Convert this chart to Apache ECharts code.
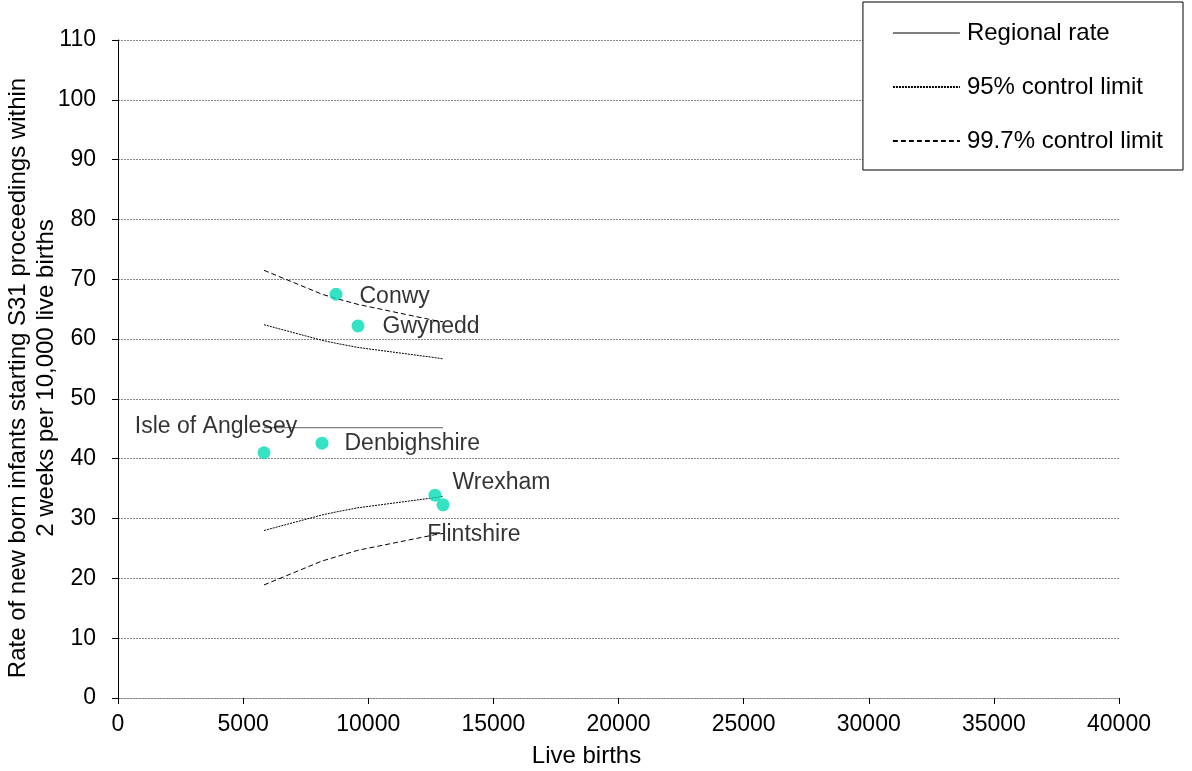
<!DOCTYPE html>
<html>
<head>
<meta charset="utf-8">
<style>
  html, body { margin: 0; padding: 0; background: #fff; }
  #chart { width: 1192px; height: 771px; }
</style>
<script src="https://cdn.jsdelivr.net/npm/echarts@6/dist/echarts.min.js"></script>
</head>
<body>
<div id="chart"></div>
<script>
// Authorities: live births vs rate per 10,000
const authorities = ["Isle of Anglesey", "Denbighshire", "Conwy", "Gwynedd", "Wrexham", "Flintshire"];
const liveBirths = [5834, 8152, 8711, 9590, 12667, 12987];
const rates = [41.0, 42.6, 67.5, 62.2, 33.9, 32.3];

// Funnel lines evaluated at the authorities' live births
const regionalRate = [45.2, 45.2, 45.2, 45.2, 45.2, 45.2];
const upper95 = [62.4, 59.8, 59.3, 58.6, 56.9, 56.7];
const lower95 = [28.0, 30.6, 31.1, 31.8, 33.5, 33.7];
const upper997 = [71.5, 67.5, 66.8, 65.8, 63.1, 62.9];
const lower997 = [18.9, 22.9, 23.6, 24.7, 27.3, 27.5];

const labelPlacement = {
  "Isle of Anglesey": { position: "top", offset: [-48, -3] },
  "Denbighshire": { position: "right", offset: [11, 0] },
  "Conwy": { position: "right", offset: [12, 2] },
  "Gwynedd": { position: "right", offset: [13, 1] },
  "Wrexham": { position: "right", offset: [6, -13] },
  "Flintshire": { position: "bottom", offset: [31, 7] }
};

const FONT = "Liberation Sans, Arial, sans-serif";

function pairs(ys) {
  return liveBirths.map((x, i) => [x, ys[i]]);
}

function limitSeries(name, ys, dash) {
  return {
    name: name,
    type: "line",
    data: pairs(ys),
    symbol: "none",
    silent: true,
    itemStyle: { color: "#000" },
    lineStyle: { color: "#000", width: 1, type: dash },
    z: 2
  };
}

const chart = echarts.init(document.getElementById("chart"));

chart.setOption({
  animation: false,
  textStyle: { fontFamily: FONT },
  grid: { left: 118, right: 73, top: 40, bottom: 73, outerBoundsMode: "none" },
  legend: {
    data: ["Regional rate", "95% control limit", "99.7% control limit"],
    orient: "vertical",
    right: 9,
    top: 2,
    z: 10,
    padding: [19, 20, 17, 29],
    itemGap: 30,
    itemWidth: 67,
    itemHeight: 12,
    backgroundColor: "#fff",
    borderColor: "#000",
    borderWidth: 1,
    itemStyle: { opacity: 0 },
    textStyle: { fontSize: 24, lineHeight: 24, color: "#000", fontFamily: FONT, padding: [0, 0, 0, 2] }
  },
  xAxis: {
    type: "value",
    min: 0,
    max: 40000,
    interval: 5000,
    name: "Live births",
    nameLocation: "middle",
    nameGap: 46,
    nameMoveOverlap: false,
    nameTextStyle: { fontSize: 24, color: "#000", fontFamily: FONT, padding: [0, 64, 0, 0] },
    axisLine: { lineStyle: { color: "#888", width: 1, type: [2, 1] } },
    axisTick: { show: true, length: 6, lineStyle: { color: "#000" } },
    axisLabel: { fontSize: 23, color: "#000", margin: 15, fontFamily: FONT, formatter: (v) => String(v) },
    splitLine: { show: false }
  },
  yAxis: {
    type: "value",
    min: 0,
    max: 110,
    interval: 10,
    name: "Rate of new born infants starting S31 proceedings within\n2 weeks per 10,000 live births",
    nameLocation: "middle",
    nameRotate: 90,
    nameGap: 58,
    nameMoveOverlap: false,
    nameTextStyle: { fontSize: 24, color: "#000", lineHeight: 28, fontFamily: FONT, padding: [0, 18, 0, 0] },
    axisLine: { show: true, lineStyle: { color: "#000", width: 1 } },
    axisTick: { show: true, length: 6, lineStyle: { color: "#000" } },
    axisLabel: { fontSize: 23, color: "#000", margin: 22, fontFamily: FONT },
    splitLine: { show: true, lineStyle: { color: "#888", type: [2, 1], width: 1 } }
  },
  series: [
    {
      name: "Regional rate",
      type: "line",
      data: pairs(regionalRate),
      symbol: "none",
      silent: true,
      itemStyle: { color: "#7f7f7f" },
      lineStyle: { color: "#7f7f7f", width: 1.2, type: "solid" },
      z: 2
    },
    limitSeries("95% control limit", upper95, [2, 1]),
    limitSeries("95% control limit", lower95, [2, 1]),
    limitSeries("99.7% control limit", upper997, [5, 3]),
    limitSeries("99.7% control limit", lower997, [5, 3]),
    {
      name: "Authorities",
      type: "scatter",
      symbolSize: 13,
      itemStyle: { color: "#00dcb4" },
      label: { show: true, color: "#000", fontSize: 23, fontFamily: FONT, textBorderWidth: 0 },
      z: 5,
      data: authorities.map((a, i) => ({
        value: [liveBirths[i], rates[i]],
        label: {
          show: true,
          formatter: a,
          position: labelPlacement[a].position,
          offset: labelPlacement[a].offset,
          fontSize: 23,
          color: "#000",
          textBorderWidth: 0,
          fontFamily: FONT
        }
      }))
    }
  ]
});
</script>
</body>
</html>
